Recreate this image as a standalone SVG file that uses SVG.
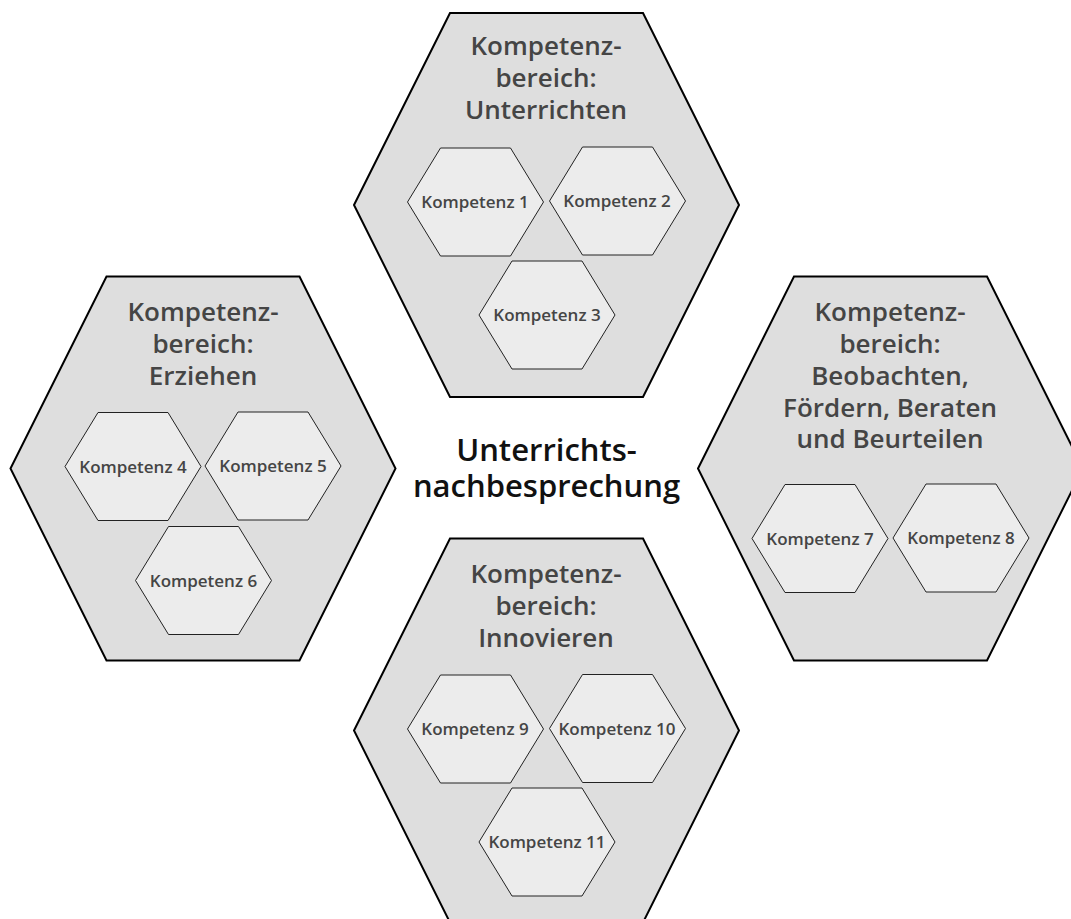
<svg xmlns="http://www.w3.org/2000/svg" xmlns:xlink="http://www.w3.org/1999/xlink" width="1071" height="919" viewBox="0 0 1071 919">
<defs>
<style>
.big{fill:#dedede;stroke:#000;stroke-width:2;stroke-linejoin:miter}
.small{fill:#ececec;stroke:#222;stroke-width:1}
.title{font-family:"Open Sans","Noto Sans",sans-serif;font-weight:600;font-size:26px;fill:#454545;text-anchor:middle}
.lbl{font-family:"Open Sans","Noto Sans",sans-serif;font-weight:600;font-size:17px;fill:#454545;text-anchor:middle}
.center{font-family:"Open Sans","Noto Sans",sans-serif;font-weight:600;font-size:31px;fill:#111;text-anchor:middle}
</style>
<polygon id="bighex" points="-192.5,0 -96.5,-192 96.5,-192 192.5,0 96.5,192 -96.5,192"/>
<polygon id="smallhex" points="-68,0 -35,-54 35,-54 68,0 35,54 -35,54"/>
</defs>
<rect width="1071" height="919" fill="#fff"/>
<g id="connectors"></g>

<g id="bereich-unterrichten">
<use xlink:href="#bighex" href="#bighex" class="big" x="546.5" y="205"/>
<text class="title" x="546" y="55">Kompetenz-</text>
<text class="title" x="546" y="87">bereich:</text>
<text class="title" x="546" y="119">Unterrichten</text>
</g>
<g id="k1"><use href="#smallhex" xlink:href="#smallhex" class="small" x="475.5" y="202"/><text class="lbl" x="475" y="208">Kompetenz 1</text></g>
<g id="k2"><use href="#smallhex" xlink:href="#smallhex" class="small" x="617.5" y="201"/><text class="lbl" x="617" y="207">Kompetenz 2</text></g>
<g id="k3"><use href="#smallhex" xlink:href="#smallhex" class="small" x="547" y="315"/><text class="lbl" x="547" y="321">Kompetenz 3</text></g>

<g id="bereich-erziehen">
<use href="#bighex" xlink:href="#bighex" class="big" x="203" y="468.5"/>
<text class="title" x="203" y="321">Kompetenz-</text>
<text class="title" x="203" y="353">bereich:</text>
<text class="title" x="203" y="385">Erziehen</text>
</g>
<g id="k4"><use href="#smallhex" xlink:href="#smallhex" class="small" x="133" y="466.5"/><text class="lbl" x="133" y="473">Kompetenz 4</text></g>
<g id="k5"><use href="#smallhex" xlink:href="#smallhex" class="small" x="273" y="466"/><text class="lbl" x="273" y="472">Kompetenz 5</text></g>
<g id="k6"><use href="#smallhex" xlink:href="#smallhex" class="small" x="203.5" y="580.5"/><text class="lbl" x="203.5" y="587">Kompetenz 6</text></g>

<g id="bereich-beobachten">
<use href="#bighex" xlink:href="#bighex" class="big" x="890.5" y="468.5"/>
<text class="title" x="890" y="321">Kompetenz-</text>
<text class="title" x="890" y="353">bereich:</text>
<text class="title" x="890" y="385">Beobachten,</text>
<text class="title" x="890" y="417">Fördern, Beraten</text>
<text class="title" x="890" y="448">und Beurteilen</text>
</g>
<g id="k7"><use href="#smallhex" xlink:href="#smallhex" class="small" x="820" y="538.5"/><text class="lbl" x="820" y="545">Kompetenz 7</text></g>
<g id="k8"><use href="#smallhex" xlink:href="#smallhex" class="small" x="961" y="538"/><text class="lbl" x="961" y="544">Kompetenz 8</text></g>

<g id="bereich-innovieren">
<use href="#bighex" xlink:href="#bighex" class="big" x="546.5" y="730.5"/>
<text class="title" x="546" y="583">Kompetenz-</text>
<text class="title" x="546" y="615">bereich:</text>
<text class="title" x="546" y="647">Innovieren</text>
</g>
<g id="k9"><use href="#smallhex" xlink:href="#smallhex" class="small" x="475.5" y="729"/><text class="lbl" x="475" y="735">Kompetenz 9</text></g>
<g id="k10"><use href="#smallhex" xlink:href="#smallhex" class="small" x="617.5" y="728.5"/><text class="lbl" x="617" y="735">Kompetenz 10</text></g>
<g id="k11"><use href="#smallhex" xlink:href="#smallhex" class="small" x="547" y="842"/><text class="lbl" x="547" y="848">Kompetenz 11</text></g>

<g id="center">
<text class="center" x="546.5" y="461">Unterrichts-</text>
<text class="center" x="546.5" y="497">nachbesprechung</text>
</g>
</svg>
